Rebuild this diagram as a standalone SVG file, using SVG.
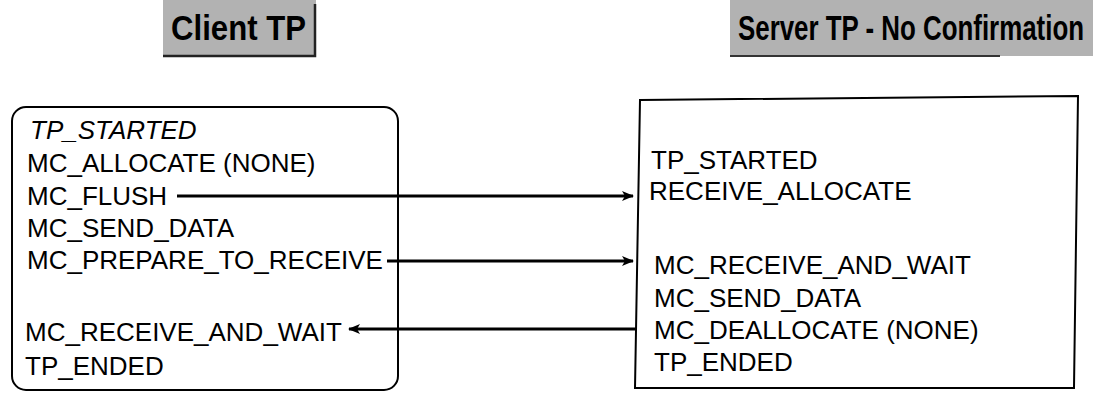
<svg xmlns="http://www.w3.org/2000/svg" width="1093" height="394" viewBox="0 0 1093 394">
<style>
.t{font-family:"Liberation Sans",Arial,Helvetica,sans-serif;font-size:26px;fill:#000}
.i{font-style:italic}
.h{font-family:"Liberation Sans",Arial,Helvetica,sans-serif;font-size:35px;font-weight:bold;fill:#000}
.band{fill:#b2b2b2}
.box{fill:#fff;stroke:#000;stroke-width:2}
.c{stroke:#000;stroke-width:3;fill:none}
</style>
<defs>
<marker id="ah" viewBox="0 0 12 10" refX="11" refY="5" markerWidth="12" markerHeight="10" markerUnits="userSpaceOnUse" orient="auto">
<path d="M0,0 L12,5 L0,10 L3,5 z" fill="#000"/>
</marker>
</defs>
<rect width="1093" height="394" fill="#fff"/>
<g id="title-client">
<rect class="band" x="163" y="0" width="153" height="56"/>
<path d="M315,4 V56 H163" stroke="#222" stroke-width="2.5" fill="none"/>
<text class="h" x="171" y="40" textLength="135" lengthAdjust="spacingAndGlyphs">Client TP</text>
</g>
<g id="title-server">
<rect class="band" x="730" y="0" width="363" height="56"/>
<path d="M730,56 H1000" stroke="#333" stroke-width="2" fill="none"/>
<text class="h" x="738" y="40" textLength="346" lengthAdjust="spacingAndGlyphs">Server TP - No Confirmation</text>
</g>
<g id="client">
<rect class="box" x="12" y="107" width="386" height="283" rx="14"/>
<text class="t i" x="30" y="139">TP_STARTED</text>
<text class="t" x="27" y="172">MC_ALLOCATE (NONE)</text>
<text class="t" x="27" y="205">MC_FLUSH</text>
<text class="t" x="27" y="237">MC_SEND_DATA</text>
<text class="t" x="27" y="269">MC_PREPARE_TO_RECEIVE</text>
<text class="t" x="25" y="341">MC_RECEIVE_AND_WAIT</text>
<text class="t" x="25" y="375">TP_ENDED</text>
</g>
<g id="server">
<polygon class="box" points="640,100 1078,96 1074,388 635,388"/>
<text class="t" x="651" y="169">TP_STARTED</text>
<text class="t" x="649" y="200">RECEIVE_ALLOCATE</text>
<text class="t" x="654" y="274">MC_RECEIVE_AND_WAIT</text>
<text class="t" x="654" y="307">MC_SEND_DATA</text>
<text class="t" x="654" y="339">MC_DEALLOCATE (NONE)</text>
<text class="t" x="654" y="371">TP_ENDED</text>
</g>
<g id="connectors">
<line class="c" x1="177" y1="196" x2="633" y2="196" marker-end="url(#ah)"/>
<line class="c" x1="387" y1="261" x2="633" y2="261" marker-end="url(#ah)"/>
<line class="c" x1="636" y1="329" x2="349" y2="329" marker-end="url(#ah)"/>
</g>
</svg>
